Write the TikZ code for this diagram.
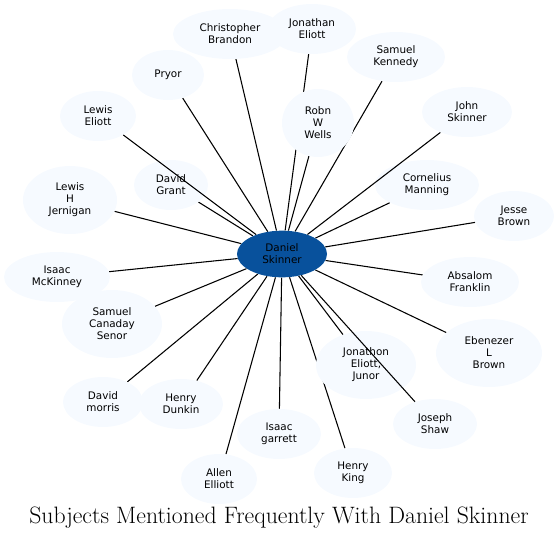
\documentclass[tikz,border=0pt]{standalone}
\usepackage{fontspec}
\usepackage{tikz}
\usetikzlibrary{shapes,shapes.geometric,backgrounds}
\newfontfamily\dejavu{DejaVu Sans}
\definecolor{hubblue}{RGB}{8,81,156}
\definecolor{paleblue}{RGB}{246,250,255}

\begin{document}
\begin{tikzpicture}[x=0.75pt,y=-0.75pt,
    person/.style={ellipse, fill=paleblue, inner sep=0pt, align=center,
      font=\dejavu\fontsize{7.8}{9}\selectfont, minimum width=#1*0.75pt, minimum height=37.5pt},
    tall/.style={minimum height=51pt},
    hub/.style={ellipse, fill=hubblue, inner sep=0pt, align=center,
      font=\dejavu\fontsize{7.8}{9}\selectfont, minimum width=67.5pt, minimum height=35pt},
    link/.style={black, line width=0.8pt}]
       \useasboundingbox (0,0) rectangle (560,540);
       \node[hub] (ds) at (282,254) {Daniel\\Skinner};
        \node[person=114] (cb) at (230,34) {Christopher\\Brandon};
        \node[person=88] (je) at (312,29) {Jonathan\\Eliott};
        \node[person=98] (sk) at (396,57) {Samuel\\Kennedy};
        \node[person=72] (pr) at (168,75) {Pryor};
        \node[person=72, tall] (rw) at (318,123) {Robn\\W\\Wells};
        \node[person=90] (js) at (467,112) {John\\Skinner};
        \node[person=76] (le) at (98,116) {Lewis\\Eliott};
        \node[person=74] (dg) at (171,185) {David\\Grant};
        \node[person=94, tall] (lj) at (70,200) {Lewis\\H\\Jernigan};
        \node[person=104] (cm) at (427,185) {Cornelius\\Manning};
        \node[person=80] (jb) at (514,216) {Jesse\\Brown};
        \node[person=106] (im) at (57,277) {Isaac\\McKinney};
        \node[person=98] (af) at (470,282) {Absalom\\Franklin};
        \node[person=100, tall] (sc) at (112,324) {Samuel\\Canaday\\Senor};
        \node[person=106, tall] (eb) at (489,353) {Ebenezer\\L\\Brown};
        \node[person=100, tall] (jj) at (366,365) {Jonathon\\Eliott,\\Junor};
        \node[person=80] (dm) at (103,402) {David\\morris};
        \node[person=84] (hd) at (181,404) {Henry\\Dunkin};
        \node[person=84] (jsh) at (435,424) {Joseph\\Shaw};
        \node[person=84] (ig) at (279,434) {Isaac\\garrett};
        \node[person=78] (hk) at (353,473) {Henry\\King};
        \node[person=76] (ae) at (219,479) {Allen\\Elliott};

        \node[font=\fontsize{17.8}{20}\selectfont] (title) at (279,518) {Subjects Mentioned Frequently With Daniel Skinner};

        \begin{scope}[on background layer]
        \path[link]
        (ds) edge (cb) (ds) edge (je) (ds) edge (sk) (ds) edge (pr)
        (ds) edge (rw) (ds) edge (dg) (ds) edge (lj)
        (ds) edge (cm) (ds) edge (jb) (ds) edge (im) (ds) edge (af)
        (ds) edge (sc) (ds) edge (eb) (ds) edge (jj) (ds) edge (dm)
        (ds) edge (hd) (ds) edge (ig) (ds) edge (hk) (ds) edge (ae)
        ;
        \end{scope}
        \path[link]
        (ds) edge (le)
        (ds) edge (js)
        (ds) edge (jsh)
        ;
    \end{tikzpicture}
\end{document}
